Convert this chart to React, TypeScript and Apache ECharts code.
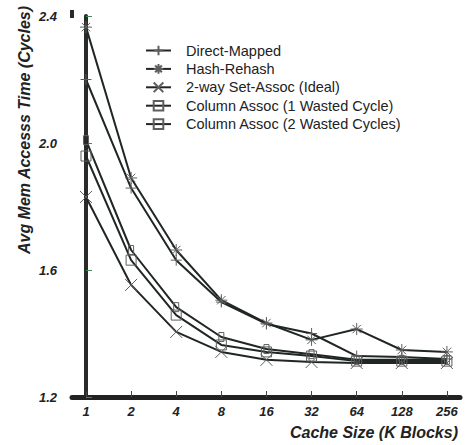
import React, { useEffect, useRef } from "react";
import * as echarts from "echarts";

// Cache sizes in K blocks (plotted on a log2 scale)
const cacheSizes = [1, 2, 4, 8, 16, 32, 64, 128, 256];

// Average memory access time (cycles) for each scheme
const directMapped = [2.2, 1.858, 1.631, 1.499, 1.43, 1.4, 1.329, 1.326, 1.32];
const hashRehash = [2.365, 1.89, 1.663, 1.505, 1.433, 1.38, 1.414, 1.348, 1.342];
const twoWaySetAssoc = [1.83, 1.553, 1.405, 1.342, 1.317, 1.31, 1.307, 1.307, 1.307];
const columnAssoc1 = [1.959, 1.631, 1.458, 1.364, 1.342, 1.329, 1.313, 1.313, 1.313];
const columnAssoc2 = [2.009, 1.663, 1.483, 1.389, 1.351, 1.335, 1.317, 1.317, 1.317];

const yTicks = [1.2, 1.6, 2.0, 2.4];

const FONT = "'Liberation Sans', Arial, Helvetica, sans-serif";
const LINE = "#1f2624";
const MARK = "#5e5e5e";

const SYM_PLUS = "path://M0,5L10,5M5,0L5,10";
const SYM_STAR = "path://M0,5L10,5M5,0L5,10M1.5,1.5L8.5,8.5M8.5,1.5L1.5,8.5";
const SYM_CROSS = "path://M0,0L10,10M10,0L0,10";
const SYM_BOX = "path://M0,0L10,0L10,10L0,10Z";
const SYM_SLOT = "path://M0,0L5,0L5,9L0,9Z";

const toPoints = (vals: number[]) =>
  vals.map((v, i) => [Math.log2(cacheSizes[i]), v]);

export default function App() {
  const ref = useRef<HTMLDivElement>(null);

  useEffect(() => {
    if (!ref.current) return;
    const chart = echarts.init(ref.current, undefined, { renderer: "svg" });

    const mk = (name: string, vals: number[], symbol: string, size: number) => ({
      name,
      type: "line",
      data: toPoints(vals),
      symbol,
      symbolSize: size,
      symbolKeepAspect: true,
      showSymbol: true,
      lineStyle: { color: LINE, width: 2 },
      itemStyle: { color: "rgba(0,0,0,0)", borderColor: MARK, borderWidth: 1 },
      emphasis: { disabled: true },
    });

    chart.setOption({
      animation: false,
      backgroundColor: "#ffffff",
      grid: { left: 72, right: 5, top: 16, bottom: 48, containLabel: false },
      legend: {
        orient: "vertical",
        left: 140,
        top: 38,
        itemWidth: 25,
        itemHeight: 12,
        itemGap: 3.4,
        symbolKeepAspect: true,
        lineStyle: { color: LINE, width: 2 },
        textStyle: {
          fontFamily: FONT,
          fontSize: 14.5,
          color: "#222",
          padding: [0, 0, 0, 10],
        },
        data: [
          "Direct-Mapped",
          "Hash-Rehash",
          "2-way Set-Assoc (Ideal)",
          "Column Assoc (1 Wasted Cycle)",
          "Column Assoc (2 Wasted Cycles)",
        ],
      },
      xAxis: {
        type: "value",
        min: -0.31,
        max: 8.29,
        axisLine: { show: true, lineStyle: { color: "#222", width: 5 } },
        axisTick: {
          show: true,
          inside: true,
          length: 6,
          lineStyle: { color: "#444", width: 1 },
          customValues: cacheSizes.map((c) => Math.log2(c)),
        },
        axisLabel: {
          customValues: cacheSizes.map((c) => Math.log2(c)),
          formatter: (v: number) => String(Math.round(Math.pow(2, v))),
          fontFamily: FONT,
          fontSize: 13,
          fontWeight: "bold",
          fontStyle: "italic",
          color: "#222",
          margin: 8,
        },
        splitLine: { show: false },
      },
      yAxis: {
        type: "value",
        min: 1.2,
        max: 2.4,
        axisLine: { show: true, lineStyle: { color: "#2a2a2a", width: 4 } },
        axisTick: {
          show: true,
          inside: true,
          length: 6,
          lineStyle: { color: "#3f8a55", width: 1 },
          customValues: yTicks,
        },
        axisLabel: {
          customValues: yTicks,
          formatter: (v: number) => v.toFixed(1),
          fontFamily: FONT,
          fontSize: 13,
          fontWeight: "bold",
          fontStyle: "italic",
          color: "#222",
          margin: 15,
        },
        splitLine: { show: false },
      },
      graphic: [
        {
          // upward extension of the vertical axis bar
          type: "rect",
          shape: { x: 70, y: 10, width: 4, height: 8 },
          style: { fill: "#2a2a2a" },
        },
        {
          type: "text",
          x: 24,
          y: 130,
          rotation: Math.PI / 2,
          style: {
            text: "Avg Mem Accesss Time (Cycles)",
            fontFamily: FONT,
            fontSize: 16,
            fontWeight: "bold",
            fontStyle: "italic",
            fill: "#222",
            align: "center",
            verticalAlign: "middle",
          },
        },
        {
          type: "text",
          x: 458,
          y: 432,
          style: {
            text: "Cache Size (K Blocks)",
            fontFamily: FONT,
            fontSize: 16,
            fontWeight: "bold",
            fontStyle: "italic",
            fill: "#222",
            align: "right",
            verticalAlign: "middle",
          },
        },
      ],
      series: [
        mk("Direct-Mapped", directMapped, SYM_PLUS, 11),
        mk("Hash-Rehash", hashRehash, SYM_STAR, 12),
        mk("2-way Set-Assoc (Ideal)", twoWaySetAssoc, SYM_CROSS, 12),
        mk("Column Assoc (1 Wasted Cycle)", columnAssoc1, SYM_BOX, 10),
        mk("Column Assoc (2 Wasted Cycles)", columnAssoc2, SYM_SLOT, 9),
      ],
    });

    return () => chart.dispose();
  }, []);

  return (
    <div
      ref={ref}
      style={{ position: "fixed", left: 0, top: 0, width: 465, height: 445 }}
    />
  );
}
